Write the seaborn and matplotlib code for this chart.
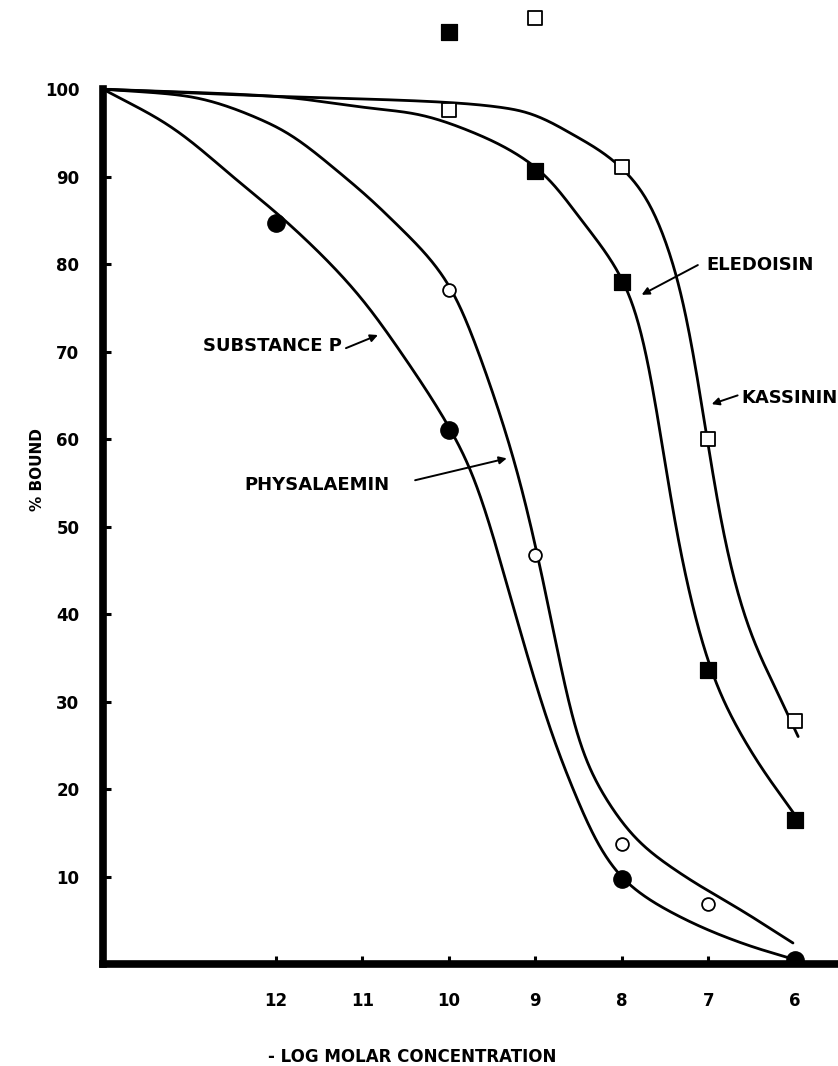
import numpy as np
import pandas as pd
import matplotlib
matplotlib.use("Agg")
import matplotlib.pyplot as plt
import seaborn as sns

# Measured binding points (x = -log molar concentration, y = % bound)
sp_x = [12, 10, 8, 6]
sp_y = [84.7, 61.1, 9.7, 0.4]
phys_x = [10, 9, 8, 7]
phys_y = [77.0, 46.7, 13.7, 6.9]
eled_x = [10, 9, 8, 7, 6]
eled_y = [106.5, 90.7, 78.0, 33.6, 16.5]
kass_x = [9, 10, 8, 7, 6]
kass_y = [108.1, 97.6, 91.1, 60.0, 27.8]

# Nodes of the displacement curves
sp_curve_x = [14, 13.24, 12.39, 11.86, 11.06, 10.49, 9.95, 9.72, 9.45, 9.18,
              8.95, 8.76, 8.56, 8.29, 7.98, 7.33, 6.56, 6.0]
sp_curve_y = [100, 95.9, 89.1, 84.7, 76.7, 69.0, 60.6, 56.1, 47.7, 38.2,
              30.5, 24.8, 19.9, 13.8, 9.6, 5.4, 2.2, 0.5]
phys_curve_x = [14, 13.08, 12.03, 11.16, 10.68, 9.95, 9.64, 9.33, 9.18, 8.97,
                8.79, 8.64, 8.49, 8.25, 7.83, 7.33, 6.56, 6.02]
phys_curve_y = [100, 99.3, 95.9, 89.6, 85.3, 77.0, 69.5, 60.5, 55.5, 46.7,
                38.2, 30.5, 24.8, 19.9, 14.2, 10.4, 5.8, 2.4]
eled_curve_x = [14, 12.03, 10.88, 10.44, 9.63, 8.94, 8.41, 8.14, 7.97, 7.78,
                7.64, 7.52, 7.41, 7.25, 6.98, 6.52, 5.98]
eled_curve_y = [100, 99.2, 97.8, 97.3, 94.7, 90.7, 84.3, 80.8, 78.0, 73.5,
                66.4, 58.7, 51.1, 43.5, 33.6, 24.5, 16.8]
kass_curve_x = [14, 12.03, 10.03, 9.18, 8.83, 8.60, 8.25, 7.94, 7.64, 7.45,
                7.29, 7.14, 7.02, 6.91, 6.75, 6.52, 6.21, 5.96]
kass_curve_y = [100, 99.2, 98.5, 97.6, 96.3, 95.0, 93.0, 90.5, 86.5, 81.6,
                76.6, 68.3, 60.6, 53.0, 45.4, 37.8, 31.3, 26.0]

x_ticks = [12, 11, 10, 9, 8, 7, 6]
y_ticks = [10, 20, 30, 40, 50, 60, 70, 80, 90, 100]


def smooth(xk, yk, n=800, sigma=0.13):
    """Monotone cubic (PCHIP) through the nodes, then a light Gaussian
    smoothing so the drawn curve has no corners."""
    xk = np.asarray(xk, float)
    yk = np.asarray(yk, float)
    o = np.argsort(xk)
    xk, yk = xk[o], yk[o]
    h = np.diff(xk)
    d = np.diff(yk) / h
    m = np.zeros_like(xk)
    m[0], m[-1] = d[0], d[-1]
    for k in range(1, len(xk) - 1):
        if d[k - 1] * d[k] <= 0:
            m[k] = 0.0
        else:
            w1 = 2 * h[k] + h[k - 1]
            w2 = h[k] + 2 * h[k - 1]
            m[k] = (w1 + w2) / (w1 / d[k - 1] + w2 / d[k])
    xs = np.linspace(xk[0], xk[-1], n)
    idx = np.clip(np.searchsorted(xk, xs) - 1, 0, len(xk) - 2)
    t = (xs - xk[idx]) / h[idx]
    h00 = 2 * t**3 - 3 * t**2 + 1
    h10 = t**3 - 2 * t**2 + t
    h01 = -2 * t**3 + 3 * t**2
    h11 = t**3 - t**2
    ys = (h00 * yk[idx] + h10 * h[idx] * m[idx]
          + h01 * yk[idx + 1] + h11 * h[idx] * m[idx + 1])
    dx = xs[1] - xs[0]
    r = int(3 * sigma / dx)
    kern = np.exp(-0.5 * ((np.arange(-r, r + 1) * dx) / sigma) ** 2)
    kern /= kern.sum()
    left = 2 * ys[0] - ys[r:0:-1]
    right = 2 * ys[-1] - ys[-2:-r - 2:-1]
    padded = np.concatenate([left, ys, right])
    ys = np.convolve(padded, kern, mode="valid")
    return xs, ys


sns.set_style("white")
plt.rcParams["font.family"] = ["DejaVu Sans"]
plt.rcParams["font.weight"] = "bold"
plt.rcParams["text.color"] = "black"
plt.rcParams["xtick.color"] = "black"
plt.rcParams["ytick.color"] = "black"

fig = plt.figure(figsize=(8.38, 10.66), dpi=100)
ax = fig.add_axes([0.1229, 0.0957, 0.877, 0.9043])

curves = [(sp_curve_x, sp_curve_y), (phys_curve_x, phys_curve_y),
          (eled_curve_x, eled_curve_y), (kass_curve_x, kass_curve_y)]
for cx, cy in curves:
    xs, ys = smooth(cx, cy)
    sns.lineplot(x=xs, y=ys, ax=ax, color="black", linewidth=2.0,
                 sort=False, estimator=None, zorder=2)

sns.scatterplot(x=sp_x, y=sp_y, ax=ax, marker="o", s=155, color="black",
                edgecolor="black", zorder=4)
sns.scatterplot(x=phys_x, y=phys_y, ax=ax, marker="o", s=85, color="white",
                edgecolor="black", linewidth=1.3, zorder=4)
sns.scatterplot(x=eled_x, y=eled_y, ax=ax, marker="s", s=120, color="black",
                edgecolor="black", zorder=4)
sns.scatterplot(x=kass_x, y=kass_y, ax=ax, marker="s", s=90, color="white",
                edgecolor="black", linewidth=1.3, zorder=4)

ax.set_xlim(14, 5.5)
ax.set_ylim(0, 110.2)
ax.set_xticks(x_ticks)
ax.set_xticklabels([str(v) for v in x_ticks])
ax.set_yticks(y_ticks)
ax.set_yticklabels([str(v) for v in y_ticks])
ax.tick_params(axis="both", direction="in", length=6, width=2.2,
               labelsize=12, color="black", labelcolor="black",
               bottom=True, left=True, top=False, right=False)
ax.tick_params(axis="y", pad=17)
ax.tick_params(axis="x", pad=20)
for lbl in ax.get_xticklabels() + ax.get_yticklabels():
    lbl.set_fontweight("bold")

for side in ("top", "right"):
    ax.spines[side].set_visible(False)
for side in ("left", "bottom"):
    ax.spines[side].set_linewidth(5.5)
    ax.spines[side].set_color("black")
    ax.spines[side].set_zorder(5)
ax.spines["left"].set_bounds(0, 100)
ax.spines["left"].set_capstyle("projecting")
ax.set_xlabel("")
ax.set_ylabel("")

label_kw = dict(fontsize=13, fontweight="bold", color="black", va="center")
arrow_kw = dict(arrowstyle="-|>", lw=1.4, color="black", mutation_scale=11,
                shrinkA=0, shrinkB=0)

ax.text(11.24, 70.6, "SUBSTANCE P", ha="right", **label_kw)
ax.annotate("", xy=(10.82, 71.9), xytext=(11.19, 70.4), arrowprops=arrow_kw)
ax.text(10.69, 54.7, "PHYSALAEMIN", ha="right", **label_kw)
ax.annotate("", xy=(9.33, 57.8), xytext=(10.39, 55.3), arrowprops=arrow_kw)
ax.text(7.02, 79.9, "ELEDOISIN", ha="left", **label_kw)
ax.annotate("", xy=(7.77, 76.5), xytext=(7.12, 79.9), arrowprops=arrow_kw)
ax.text(6.62, 64.7, "KASSININ", ha="left", **label_kw)
ax.annotate("", xy=(6.96, 64.0), xytext=(6.66, 65.0), arrowprops=arrow_kw)

fig.text(37 / 838, 1 - 470 / 1066, "% BOUND", rotation=90, ha="center",
         va="center", fontsize=11, fontweight="bold")
fig.text(412 / 838, 1 - 1057 / 1066, "- LOG MOLAR CONCENTRATION",
         ha="center", va="center", fontsize=12, fontweight="bold")

fig.savefig("out.png", dpi=100, facecolor="white")
